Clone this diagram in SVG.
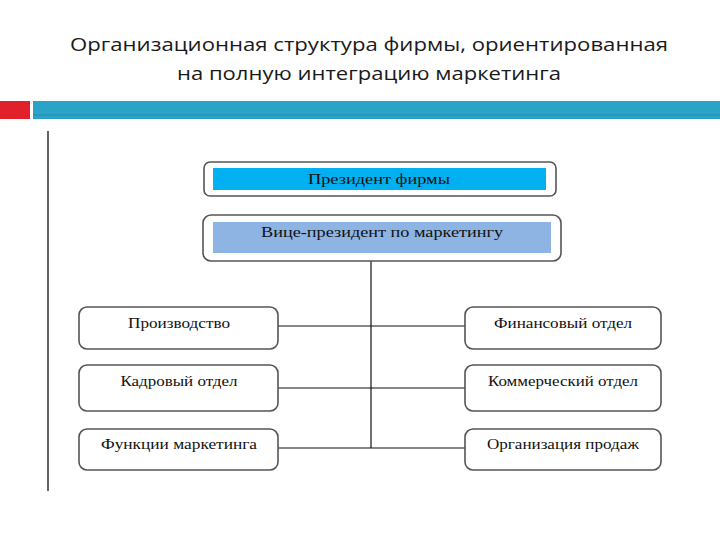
<svg xmlns="http://www.w3.org/2000/svg" width="720" height="540" viewBox="0 0 720 540">
<style>
.title{font-family:"Open Sans","Liberation Sans",sans-serif;font-size:19px;fill:#1a1a1a;text-anchor:middle;font-weight:500}
.box{fill:#fff;stroke:#555;stroke-width:1.6}
.lbl{font-family:"Liberation Serif","DejaVu Serif",serif;font-size:14px;fill:#111;text-anchor:middle}
.conn{stroke:#111;stroke-width:1.2;fill:none}
</style>
<rect width="720" height="540" fill="#fff"/>
<text class="title" x="369" y="51" textLength="598" lengthAdjust="spacingAndGlyphs">Организационная структура фирмы, ориентированная</text>
<text class="title" x="369" y="80" textLength="384" lengthAdjust="spacingAndGlyphs">на полную интеграцию маркетинга</text>
<rect x="0" y="101" width="30" height="18" fill="#e0202a"/>
<rect x="33" y="101" width="687" height="18" fill="#2aa3c8"/>
<line x1="33" y1="115" x2="720" y2="115" stroke="#2a8aa8" stroke-width="1"/>
<line x1="48" y1="131" x2="48" y2="491" stroke="#111" stroke-width="1.3"/>
<g id="connectors">
<line class="conn" x1="371" y1="261" x2="371" y2="448"/>
<line class="conn" x1="278" y1="326" x2="465" y2="326"/>
<line class="conn" x1="278" y1="388" x2="465" y2="388"/>
<line class="conn" x1="278" y1="448" x2="465" y2="448"/>
</g>
<g id="president">
<rect class="box" x="204" y="162" width="352" height="34" rx="6"/>
<rect x="213" y="168" width="333" height="22" fill="#00b0f0"/>
<text class="lbl" x="379" y="184" textLength="142" lengthAdjust="spacingAndGlyphs">Президент фирмы</text>
</g>
<g id="vp">
<rect class="box" x="203" y="215" width="358" height="46" rx="8"/>
<rect x="213" y="222" width="338" height="31" fill="#8eb4e3"/>
<text class="lbl" x="382" y="237" textLength="242" lengthAdjust="spacingAndGlyphs" style="font-size:14.5px">Вице-президент по маркетингу</text>
</g>
<g id="production">
<rect class="box" x="79" y="307" width="199" height="42" rx="8"/>
<text class="lbl" x="179" y="328" textLength="102" lengthAdjust="spacingAndGlyphs">Производство</text>
</g>
<g id="hr">
<rect class="box" x="79" y="365" width="199" height="46" rx="8"/>
<text class="lbl" x="179" y="386" textLength="117" lengthAdjust="spacingAndGlyphs">Кадровый отдел</text>
</g>
<g id="marketing">
<rect class="box" x="79" y="429" width="199" height="41" rx="8"/>
<text class="lbl" x="179" y="449" textLength="156" lengthAdjust="spacingAndGlyphs">Функции маркетинга</text>
</g>
<g id="finance">
<rect class="box" x="465" y="307" width="196" height="42" rx="8"/>
<text class="lbl" x="563" y="328" textLength="138" lengthAdjust="spacingAndGlyphs">Финансовый отдел</text>
</g>
<g id="commerce">
<rect class="box" x="465" y="365" width="196" height="46" rx="8"/>
<text class="lbl" x="563" y="386" textLength="150" lengthAdjust="spacingAndGlyphs">Коммерческий отдел</text>
</g>
<g id="sales">
<rect class="box" x="465" y="429" width="196" height="41" rx="8"/>
<text class="lbl" x="563" y="449" textLength="152" lengthAdjust="spacingAndGlyphs">Организация продаж</text>
</g>
</svg>
